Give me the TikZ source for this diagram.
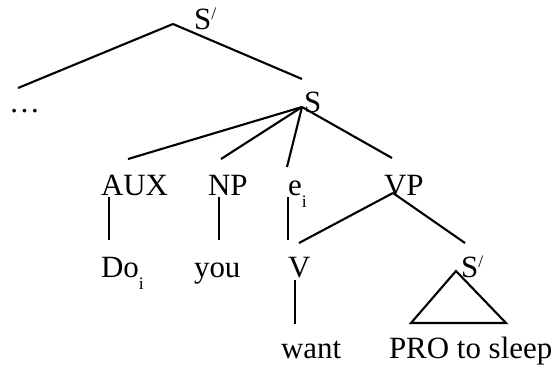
\documentclass[tikz,border=0pt]{standalone}
\usepackage{fontspec}
\setmainfont{Liberation Serif}
% bar level mark and index
\newcommand{\barmark}{\raisebox{0.3em}{\fontsize{10}{10}\selectfont /}}
\newcommand{\idx}[1]{\raisebox{-0.42em}{\fontsize{10}{10}\selectfont #1}}
\tikzset{lbl/.style={anchor=base west, inner sep=0pt, font=\fontsize{17.6}{21}\selectfont}}
\begin{document}
\begin{tikzpicture}[line width=1.2pt]
                \useasboundingbox (0,0) rectangle (11.1,7.38);

                % labels
                \node[lbl] (sbar)  at (3.86,6.80) {S\barmark};
                \node[lbl] (dots)  at (0.16,5.14) {\ldots};
                \node[lbl] (s)     at (6.06,5.14) {S};
                \node[lbl] (aux)   at (2.00,3.48) {AUX};
                \node[lbl] (np)    at (4.14,3.48) {NP};
                \node[lbl] (e)     at (5.74,3.48) {e\idx{i}};
                \node[lbl] (vp)    at (7.66,3.48) {VP};
                \node[lbl] (do)    at (2.00,1.84) {Do\idx{i}};
                \node[lbl] (you)   at (3.86,1.84) {you};
                \node[lbl] (v)     at (5.74,1.84) {V};
                \node[lbl] (sbar2) at (9.20,1.84) {S\barmark};
                \node[lbl] (want)  at (5.60,0.22) {want};
                \node[lbl] (pro)   at (7.76,0.22) {PRO to sleep};

                % branch points
                \coordinate (sbar-top)  at (3.46,6.90);
                \coordinate (dots-end)  at (0.36,5.62);
                \coordinate (s-end)     at (6.04,5.80);
                \coordinate (s-top)     at (6.04,5.24);
                \coordinate (aux-end)   at (2.56,4.20);
                \coordinate (np-end)    at (4.42,4.20);
                \coordinate (e-end)     at (5.74,4.04);
                \coordinate (vp-end)    at (7.84,4.22);
                \coordinate (vp-top)    at (7.86,3.52);
                \coordinate (v-end)     at (5.98,2.52);
                \coordinate (sbar2-end) at (9.30,2.52);
                \coordinate (tri-top)   at (9.12,1.96);
                \coordinate (tri-l)     at (8.22,0.92);
                \coordinate (tri-r)     at (10.12,0.92);

                \draw (sbar-top) -- (dots-end);
                \draw (sbar-top) -- (s-end);
                \draw (s-top) -- (aux-end);
                \draw (s-top) -- (np-end);
                \draw (s-top) -- (e-end);
                \draw (s-top) -- (vp-end);
                \draw (vp-top) -- (v-end);
                \draw (vp-top) -- (sbar2-end);

                % unary branches
                \coordinate (aux-foot) at (2.18,3.44);
                \coordinate (do-head)  at (2.18,2.58);
                \coordinate (np-foot)  at (4.38,3.44);
                \coordinate (you-head) at (4.38,2.58);
                \coordinate (e-foot)   at (5.76,3.44);
                \coordinate (v-head)   at (5.76,2.58);
                \coordinate (v-foot)   at (5.90,1.78);
                \coordinate (want-head) at (5.90,0.90);
                \draw (aux-foot) -- (do-head);
                \draw (np-foot) -- (you-head);
                \draw (e-foot) -- (v-head);
                \draw (v-foot) -- (want-head);

                \draw (tri-top) -- (tri-l) -- (tri-r) -- cycle;
            \end{tikzpicture}
\end{document}
